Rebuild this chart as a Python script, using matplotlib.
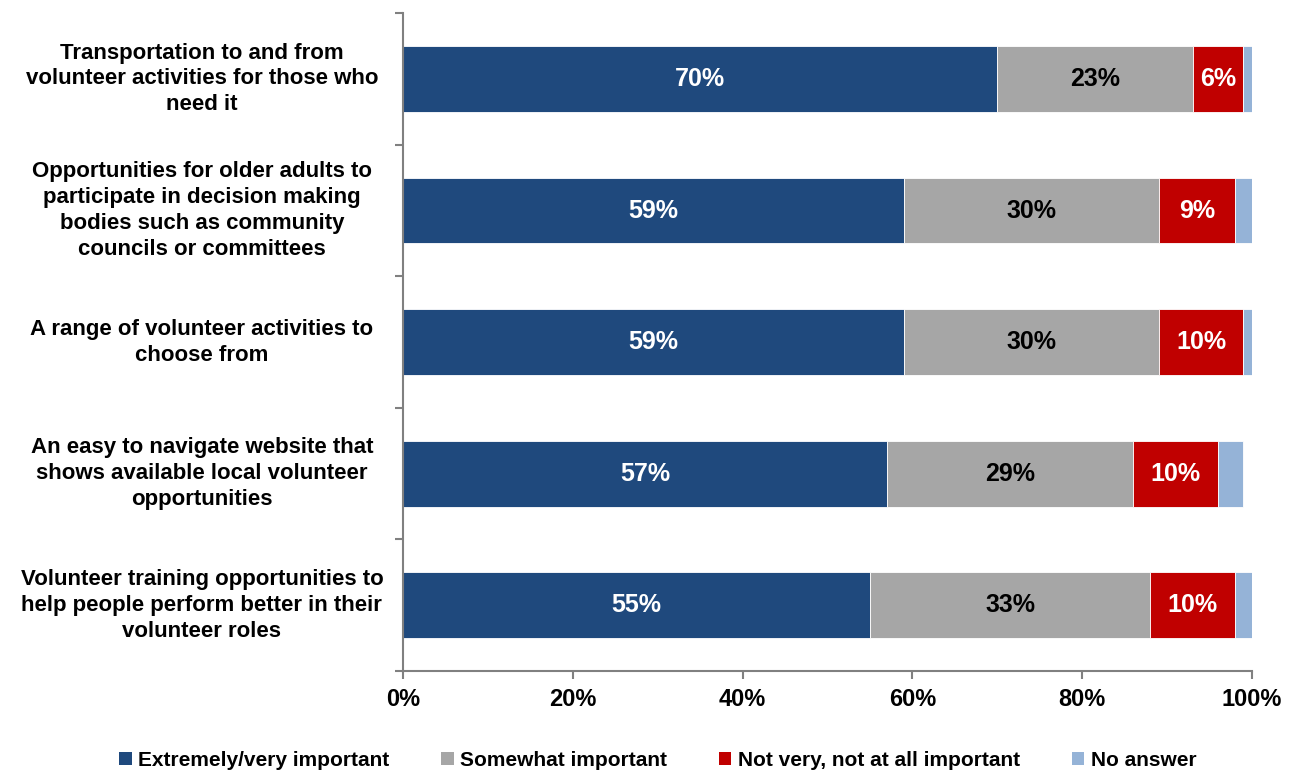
import numpy as np
import matplotlib.pyplot as plt

plt.rcParams['font.family'] = ['Liberation Sans', 'DejaVu Sans']
plt.rcParams['font.weight'] = 'bold'

# data (percent of respondents)
categories = [
    "Transportation to and from\nvolunteer activities for those who\nneed it",
    "Opportunities for older adults to\nparticipate in decision making\nbodies such as community\ncouncils or committees",
    "A range of volunteer activities to\nchoose from",
    "An easy to navigate website that\nshows available local volunteer\nopportunities",
    "Volunteer training opportunities to\nhelp people perform better in their\nvolunteer roles",
]
extremely = [70, 59, 59, 57, 55]
somewhat = [23, 30, 30, 29, 33]
not_important = [6, 9, 10, 10, 10]
no_answer = [1, 2, 1, 3, 2]

series = [
    ("Extremely/very important", extremely, "#1F497D", "white"),
    ("Somewhat important", somewhat, "#A6A6A6", "black"),
    ("Not very, not at all important", not_important, "#C00000", "white"),
    ("No answer", no_answer, "#95B3D7", None),
]

fig = plt.figure(figsize=(12.92, 7.74), dpi=100)
ax = fig.add_axes([0.312, 0.133, 0.657, 0.850])

y = np.arange(len(categories))
left = np.zeros(len(categories))
for name, vals, color, txt in series:
    vals = np.array(vals, dtype=float)
    ax.barh(y, vals, left=left, height=0.5, color=color, label=name,
            edgecolor="white", linewidth=0.6)
    if txt is not None:
        for yi, l, v in zip(y, left, vals):
            ax.text(l + v / 2, yi, f"{int(v)}%", ha="center", va="center",
                    color=txt, fontsize=18, fontweight="bold")
    left += vals

ax.set_xlim(0, 100)
ax.set_ylim(len(categories) - 0.5, -0.5)
ax.set_xticks(np.arange(0, 101, 20))
ax.set_xticklabels([f"{t}%" for t in range(0, 101, 20)], fontsize=17, fontweight="bold")
ax.tick_params(axis="x", length=6, color="#808080", width=1.5, pad=6)

# category labels placed as centred text; ticks sit at the boundaries
ax.set_yticks(np.arange(-0.5, len(categories), 1))
ax.set_yticklabels([])
ax.tick_params(axis="y", length=6, color="#808080", width=1.5)
for yi, cat in zip(y, categories):
    ax.text(-23.7, yi, cat, ha="center", va="center", fontsize=16,
            fontweight="bold", multialignment="center", clip_on=False,
            linespacing=1.3)

for s in ["top", "right"]:
    ax.spines[s].set_visible(False)
for s in ["left", "bottom"]:
    ax.spines[s].set_color("#808080")
    ax.spines[s].set_linewidth(1.5)

leg = fig.legend(loc="center", bbox_to_anchor=(0.509, 0.018), ncol=4, frameon=False,
                 fontsize=15, handlelength=0.6, handleheight=0.6, handletextpad=0.3,
                 columnspacing=2.5)
for h in leg.legend_handles:
    h.set_edgecolor("none")

fig.savefig("out.png", dpi=100)
